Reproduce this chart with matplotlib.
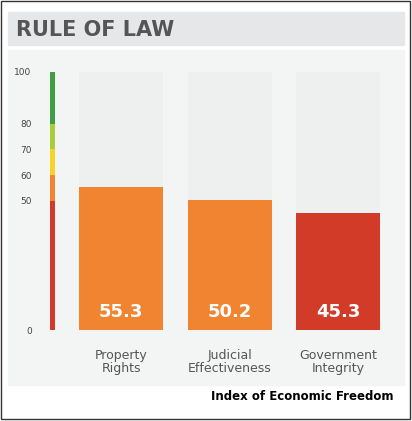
import matplotlib
matplotlib.use('Agg')
import matplotlib.pyplot as plt
from matplotlib.patches import Rectangle

categories = ['Property\nRights', 'Judicial\nEffectiveness', 'Government\nIntegrity']
values = [55.3, 50.2, 45.3]
bar_colors = ['#F08431', '#F08431', '#D13B27']
ticks = [0, 50, 60, 70, 80, 100]
bands = [(0, 50, '#D13B27'), (50, 60, '#F08431'), (60, 70, '#F5D32A'),
         (70, 80, '#A9CC3A'), (80, 100, '#3E9F45')]

W, H = 412, 421
fig = plt.figure(figsize=(W / 100, H / 100), dpi=100)
fig.patch.set_facecolor('white')

# frame, header band and panel, in pixel coords
bg = fig.add_axes([0, 0, 1, 1])
bg.set_xlim(0, W); bg.set_ylim(H, 0); bg.axis('off')
bg.add_patch(Rectangle((1, 1), W - 3, H - 3, fill=False, ec='#333333', lw=1))
bg.add_patch(Rectangle((8, 12), 396, 33, color='#E6E7E8'))
bg.add_patch(Rectangle((8, 50), 396, 335, color='#F3F4F4'))
bg.text(16, 30, 'RULE OF LAW', fontsize=15, fontweight='bold', color='#555555', va='center')
bg.text(394, 397, 'Index of Economic Freedom', fontsize=8.5, fontweight='bold',
        ha='right', va='center', color='black')

ax = fig.add_axes([40 / W, (H - 330) / H, 350 / W, 258 / H])
ax.set_facecolor('none')
ax.set_xlim(-0.747, 2.479)
ax.set_ylim(0, 100)
x = list(range(len(values)))
ax.bar(x, [100] * len(x), width=0.774, color='#EEEFEF', zorder=1)
ax.bar(x, values, width=0.774, color=bar_colors, zorder=2)
for xi, v in zip(x, values):
    ax.text(xi, 7, f'{v:.1f}', ha='center', va='center', color='white',
            fontsize=13, fontweight='bold', zorder=3)
for lo, hi, c in bands:
    ax.bar(-0.631, hi - lo, bottom=lo, width=0.046, color=c, zorder=2)
ax.set_yticks(ticks)
ax.set_yticklabels([str(t) for t in ticks], fontsize=6.5, color='#444444')
ax.tick_params(axis='y', length=0, pad=6)
ax.set_xticks(x)
ax.set_xticklabels(categories, fontsize=9, color='#555555', linespacing=1.0)
ax.tick_params(axis='x', length=0, pad=14)
for s in ax.spines.values():
    s.set_visible(False)

fig.savefig('out.png', dpi=100)
